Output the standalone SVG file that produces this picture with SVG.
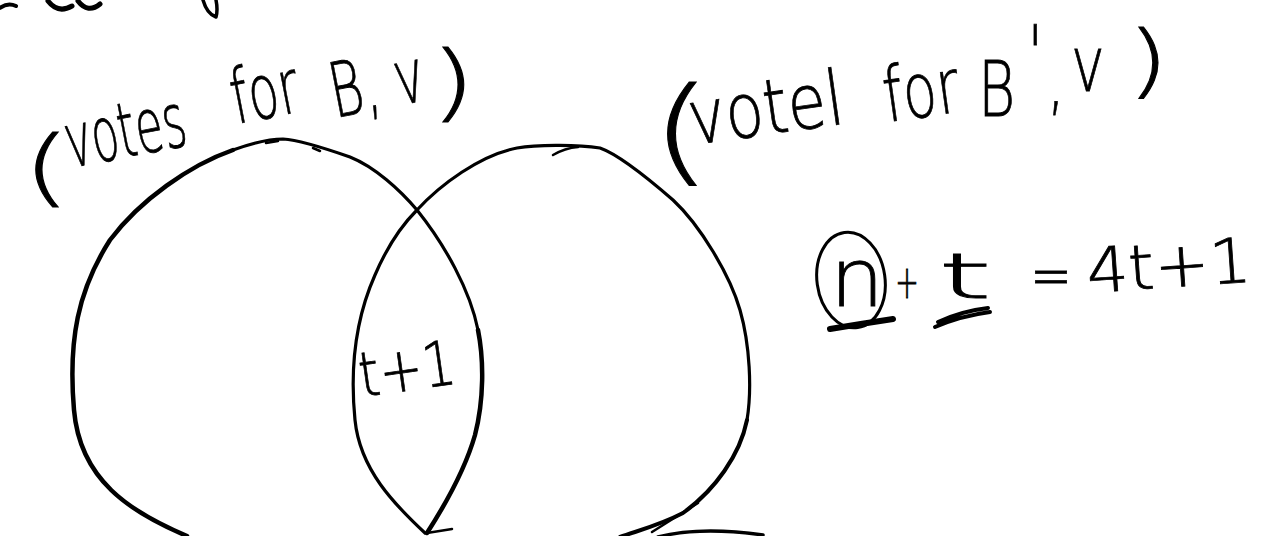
<svg xmlns="http://www.w3.org/2000/svg" width="1274" height="536" viewBox="0 0 1274 536">
<style>
.ink{fill:none;stroke:#000;stroke-linecap:round;stroke-linejoin:round}
.hw{font-family:"DejaVu Sans","Liberation Sans",sans-serif;font-weight:200;fill:#000;stroke:#000;stroke-width:0.8}
</style>
<rect width="1274" height="536" fill="#fff"/>
<g id="top-fragments">
<path class="ink" stroke-width="4" d="M0,8 Q8,2 16,6"/>
<path class="ink" stroke-width="5" d="M48,1 Q58,14 72,6 M78,1 Q88,14 100,4"/>
<path class="ink" stroke-width="3.5" d="M203,0 Q207,14 216,17 Q218,10 216,0"/>
</g>
<g id="set-b">
<path class="ink" stroke-width="4.5" d="M187,536 C130,512 80,480 74,410 C68,340 78,290 110,240 C140,200 190,165 233,150"/>
<path class="ink" stroke-width="3.2" d="M233,150 C255,142 270,139 283,139 C300,140 330,150 350,157 C375,167 400,190 417,210 C445,245 470,290 478,330"/>
<path class="ink" stroke-width="4.5" d="M478,330 C484,360 484,400 475,435 C465,470 445,505 427,533"/>
<path class="ink" stroke-width="2.5" d="M266,143 L278,141 M313,148 L320,151"/>
</g>
<g id="set-b-prime">
<path class="ink" stroke-width="3.2" d="M425,533 C395,505 360,470 355,420 C350,370 355,320 375,275 C390,240 405,222 417,210 C440,185 480,155 517,148 C535,145 575,144 600,148 C620,155 650,180 673,200 C700,225 730,275 740,310 C750,345 752,390 747,420"/>
<path class="ink" stroke-width="4" d="M747,420 C740,455 715,490 683,513 C660,525 640,530 620,537"/>
<path class="ink" stroke-width="2.5" d="M553,155 Q565,148 578,147"/>
<path class="ink" stroke-width="2.5" d="M652,532 L698,503"/>
<path class="ink" stroke-width="2.5" d="M427,533 L452,529"/>
<path class="ink" stroke-width="3.5" d="M658,537 Q700,526 763,535"/>
</g>
<g id="intersection">
<text class="hw" x="362" y="397" font-size="62" textLength="97" lengthAdjust="spacingAndGlyphs" transform="rotate(-8 362 397)">t+1</text>
</g>
<g id="label-b">
<text class="hw" font-size="84" transform="translate(22,196) scale(1.5,1)">(</text>
<text class="hw" x="70" y="168" font-size="76" textLength="122" lengthAdjust="spacingAndGlyphs" transform="rotate(-11 70 168)">votes</text>
<text class="hw" x="236" y="124" font-size="76" textLength="68" lengthAdjust="spacingAndGlyphs" transform="rotate(-11 236 124)">for</text>
<text class="hw" x="335" y="118" font-size="76" textLength="95" lengthAdjust="spacingAndGlyphs" transform="rotate(-11 335 118)">B, v</text>
<text class="hw" font-size="84" transform="translate(430,111) scale(1.4,1)">)</text>
</g>
<g id="label-b-prime">
<text class="hw" font-size="115" transform="translate(650,170) scale(1.4,1)">(</text>
<text class="hw" x="692" y="145" font-size="76" textLength="156" lengthAdjust="spacingAndGlyphs" transform="rotate(-8 692 145)">votel</text>
<text class="hw" x="887" y="122" font-size="76" textLength="76" lengthAdjust="spacingAndGlyphs" transform="rotate(-8 887 122)">for</text>
<text class="hw" font-size="76" transform="translate(978,116) scale(0.75,1)">B<tspan x="66" y="-36">'</tspan><tspan x="92" y="-10">,</tspan><tspan x="124" y="-25">v</tspan></text>
<text class="hw" font-size="80" transform="translate(1127,88) scale(1.35,1)">)</text>
</g>
<g id="equation">
<ellipse class="ink" stroke-width="3" cx="851" cy="280" rx="34" ry="48" transform="rotate(-8 851 280)"/>
<text class="hw" x="830" y="306" font-size="80" textLength="54" lengthAdjust="spacingAndGlyphs">n</text>
<path class="ink" stroke-width="6" d="M830,329 Q860,324 893,319"/>
<text class="hw" x="895" y="298" font-size="46" textLength="24" lengthAdjust="spacingAndGlyphs">+</text>
<text class="hw" x="938" y="298" font-size="62" textLength="54" lengthAdjust="spacingAndGlyphs">t</text>
<path class="ink" stroke-width="4" d="M935,327 Q960,316 990,312 M938,322 Q962,311 988,308"/>
<text class="hw" x="1030" y="296" font-size="60" textLength="42" lengthAdjust="spacingAndGlyphs">=</text>
<text class="hw" x="1088" y="293" font-size="62" textLength="165" lengthAdjust="spacingAndGlyphs" transform="rotate(-4 1088 293)">4t+1</text>
</g>
</svg>
